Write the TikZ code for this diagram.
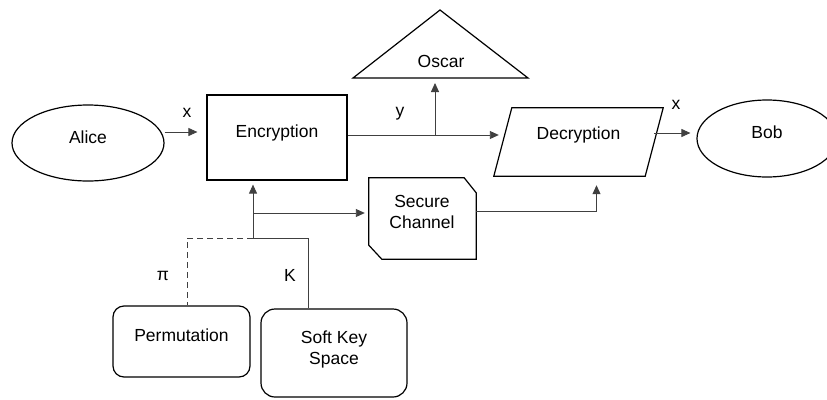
\documentclass[tikz,border=0pt]{standalone}
\usepackage{fontspec}
\setmainfont{Liberation Sans}
\usetikzlibrary{shapes.geometric,arrows.meta}
\begin{document}
\begin{tikzpicture}[x=1pt,y=-1pt,
  every node/.style={font=\fontsize{17.5}{21}\selectfont, inner sep=0pt},
  shapeline/.style={draw=black, line width=1.2pt},
  box/.style={shapeline, text height=12pt, text depth=12pt},
  plain/.style={draw=none, text height=12pt, text depth=12pt},
  link/.style={draw=black!75, line width=0.9pt},
  arr/.style={link, -{Triangle[length=9pt,width=8pt]}},
  lbl/.style={inner sep=0pt}
]
\useasboundingbox (0,0) rectangle (827,399);
\fill[white] (0,0) rectangle (827,399);

% parties
\node[box, ellipse, minimum width=152, minimum height=76] (alice) at (88,143) {Alice};
\node[box, ellipse, minimum width=140, minimum height=77] (bob) at (767,138.5) {Bob};

% encryption and decryption
\node[box, rectangle, minimum width=140, minimum height=85] (enc) at (277,137.5) {Encryption};
\node[plain, rectangle, text depth=18pt, minimum width=151, minimum height=68] (dec) at (578.5,142) {Decryption};
\draw[shapeline] ([xshift=-9pt]dec.south west) -- ([xshift=-9pt]dec.south east)
  -- ([xshift=9pt]dec.north east) -- ([xshift=9pt]dec.north west) -- cycle;

% eavesdropper
\draw[shapeline] (440,10) -- (528,78) -- (353,78) -- cycle;
\node[plain] (oscar) at (441,67) {Oscar};

% secure channel: box with two cut corners
\node[draw=none, rectangle, minimum width=107, minimum height=81] (sc) at (422.5,218.5) {};
\draw[shapeline] (sc.north west) -- ([xshift=-12pt]sc.north east) -- ([yshift=-15pt]sc.north east)
  -- (sc.south east) -- ([xshift=13pt]sc.south west) -- ([yshift=14pt]sc.south west) -- cycle;
\node[align=center] (sctxt) at (422,212) {Secure\\Channel};

% key sources
\node[box, rectangle, rounded corners=11pt, minimum width=137, minimum height=71] (perm) at (181.5,341.5) {Permutation};
\node[shapeline, rectangle, rounded corners=14pt, minimum width=146, minimum height=88] (soft) at (334,353) {};
\node[align=center] (softtxt) at (334,349) {Soft Key\\Space};

% junction points
\coordinate (ybr) at (435,135);
\coordinate (oscbase) at (435,78);
\coordinate (kj) at (253,238);
\coordinate (kb) at (253,213);
\coordinate (pj) at (187,238);
\coordinate (kx) at (308,238);

% connectors
\draw[arr, shorten >=9pt] ([yshift=11pt]alice.east) -- ([yshift=11pt]alice.east -| enc.west);
\draw[arr, shorten >=4pt] (enc.east |- ybr) -- (ybr -| dec.west);
\draw[arr, shorten >=5pt] (ybr) -- (oscbase);
\draw[arr, shorten >=6pt] ([yshift=9pt]dec.east) -- ([yshift=9pt]dec.east -| bob.west);
\draw[arr, shorten >=4pt] (kj) -- (kj |- enc.south);
\draw[arr, shorten >=4pt] (kb) -- (kb -| sc.west);
\draw[arr, shorten >=9pt] ([yshift=7.5pt]sc.east) -| ([xshift=18pt]dec.south);
\draw[link, dashed, dash pattern=on 6pt off 4pt] (kj) -- (pj) -- (pj |- perm.north);
\draw[link] (kj) -- (kx) -- (kx |- soft.north);

% labels
\node[lbl] (lx1) at (187,113) {x};
\node[lbl] (ly) at (400,114) {y};
\node[lbl] (lx2) at (676,105) {x};
\node[lbl] (lpi) at (163,276) {π};
\node[lbl] (lk) at (290,275) {K};
\end{tikzpicture}
\end{document}
